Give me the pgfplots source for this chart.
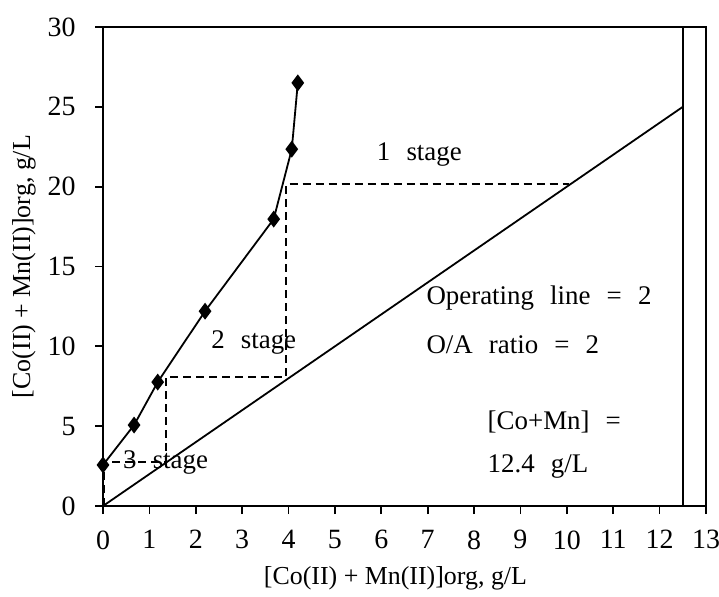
\documentclass[border=0pt]{standalone}
\usepackage{fontspec}
\setmainfont{Liberation Serif}
\usepackage{pgfplots}
\pgfplotsset{compat=1.18}
\begin{document}
\begin{tikzpicture}
\begin{axis}[
  scale only axis,
  width=603bp, height=479bp,
  xmin=0, xmax=13, ymin=0, ymax=30,
  xtick={0,1,...,13}, ytick={0,5,...,30},
  tick align=outside, tick pos=left,
  major tick length=8bp,
  axis line style={line width=1.7bp},
  every tick/.style={line width=1.7bp, black},
  /pgf/number format/assume math mode=true,
  tick label style={font=\fontsize{28}{32}\selectfont},
  xticklabel style={yshift=-13bp},
  yticklabel style={xshift=-16bp},
  xlabel={[Co(II) + Mn(II)]org, g/L},
  ylabel={[Co(II) + Mn(II)]org, g/L},
  label style={font=\fontsize{26}{30}\selectfont},
  xlabel style={yshift=-10bp, xshift=-9bp},
  ylabel style={yshift=5bp},
  clip=false,
]
\coordinate (ll) at (rel axis cs:0,0);
\coordinate (ur) at (rel axis cs:1,1);
% dashed steps
\addplot[black, line width=1.7bp, dash pattern=on 8bp off 5bp] coordinates {
 (0.03,0) (0.03,2.77) (1.36,2.77) (1.36,8.1) (3.95,8.1) (3.95,20.15) (10.05,20.15)};
% operating line
\addplot[black, line width=1.8bp] coordinates {(0,0) (12.5,25)};
% vertical line
\addplot[black, line width=1.8bp] coordinates {(12.5,0) (12.5,30)};
% equilibrium curve
\addplot[black, line width=1.8bp, mark=diamond*, mark size=7bp, mark options={solid, fill=black}] coordinates {
 (0.0,2.57) (0.67,5.07) (1.18,7.76) (2.2,12.2) (3.68,17.97) (4.07,22.35) (4.2,26.5)};
\node[font=\fontsize{27}{31}\selectfont] at (axis cs:6.82,22.0) {1\hspace{0.6em}stage};
\node[font=\fontsize{27}{31}\selectfont] at (axis cs:3.25,10.27) {2\hspace{0.6em}stage};
\node[font=\fontsize{27}{31}\selectfont] at (axis cs:1.35,2.75) {3\hspace{0.6em}stage};
\node[font=\fontsize{27}{31}\selectfont, anchor=west, inner sep=0pt] at (axis cs:6.97,13.0) {Operating\hspace{0.6em}line\hspace{0.6em}=\hspace{0.6em}2};
\node[font=\fontsize{27}{31}\selectfont, anchor=west, inner sep=0pt] at (axis cs:6.97,10.08) {O/A\hspace{0.6em}ratio\hspace{0.6em}=\hspace{0.6em}2};
\node[font=\fontsize{27}{31}\selectfont, anchor=west, inner sep=0pt] at (axis cs:8.29,5.26) {[Co+Mn]\hspace{0.6em}=};
\node[font=\fontsize{27}{31}\selectfont, anchor=west, inner sep=0pt] at (axis cs:8.29,2.5) {12.4\hspace{0.6em}g/L};
\end{axis}
\pgfresetboundingbox
\path ([shift={(-103bp,-91bp)}]ll) rectangle ([shift={(13bp,27bp)}]ur);
\end{tikzpicture}
\end{document}
